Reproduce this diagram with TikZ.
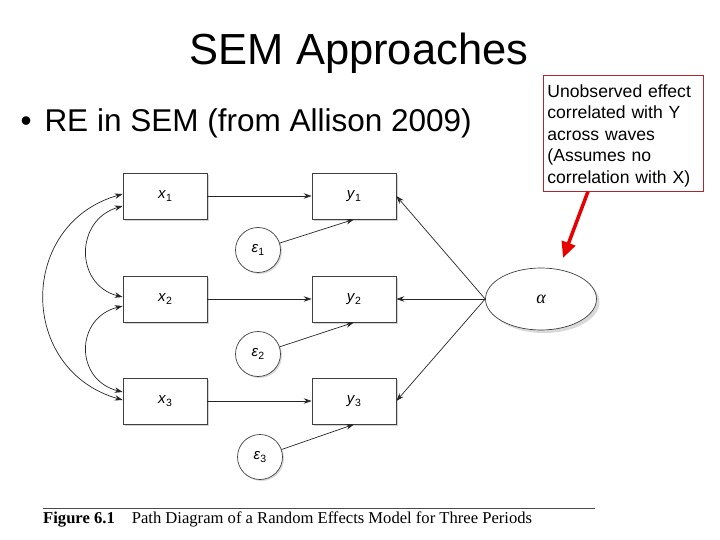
\documentclass[tikz,border=0pt]{standalone}
\usepackage{fontspec}
\setmainfont{Liberation Sans}
\newfontfamily\bookfont{Liberation Serif}
\usetikzlibrary{arrows.meta,shapes.geometric,shadows}

\newcommand{\lbl}[2]{\textit{#1}\raisebox{-3pt}{\fontsize{10.5}{10.5}\selectfont #2}}

\tikzset{
  obs/.style={draw=black!75, fill=white, line width=0.7pt, minimum width=84pt, minimum height=46pt,
    drop shadow={shadow xshift=2pt, shadow yshift=-2pt, opacity=0.35}, font=\fontsize{15}{17}\selectfont},
  err/.style={circle, draw=black!75, fill=white, line width=0.7pt, minimum size=45pt, inner sep=0pt,
    drop shadow={shadow xshift=1.5pt, shadow yshift=-1.5pt, opacity=0.3}, font=\fontsize{15}{17}\selectfont},
  lat/.style={ellipse, draw=black!75, fill=white, line width=0.7pt, minimum width=111pt, minimum height=62pt,
    drop shadow={shadow xshift=3pt, shadow yshift=-3pt, opacity=0.3}, font=\fontsize{18}{20}\selectfont},
  reg/.style={draw=black!85, line width=0.7pt, -{Stealth[length=8pt,width=5.5pt]}},
  cov/.style={draw=black!85, line width=0.7pt, {Stealth[length=8pt,width=5.5pt]}-{Stealth[length=8pt,width=5.5pt]}},
  redarr/.style={draw={rgb,255:red,230;green,0;blue,0}, line width=3.5pt, -{Triangle[length=16pt,width=14pt]}}
}

\begin{document}
\begin{tikzpicture}[x=1pt,y=-1pt]
  \useasboundingbox (0,0) rectangle (720,540);

  % slide text
  \node[font=\fontsize{43.5}{50}\selectfont, anchor=base] (title) at (359,65) {SEM Approaches};
  \node[font=\fontsize{31.5}{36}\selectfont, anchor=base west] (bullet) at (17,132)
    {\makebox[24pt][l]{•}RE in SEM (from Allison 2009)};

  % observed variables
  \node[obs] (x1) at (165,196) {\lbl{x}{1}};
  \node[obs] (x2) at (165,299) {\lbl{x}{2}};
  \node[obs] (x3) at (165,401) {\lbl{x}{3}};
  \node[obs] (y1) at (354,196) {\lbl{y}{1}};
  \node[obs] (y2) at (354,299) {\lbl{y}{2}};
  \node[obs] (y3) at (354,401) {\lbl{y}{3}};

  % errors and random effect
  \node[err] (e1) at (258,250) {\lbl{ε}{1}};
  \node[err] (e2) at (258,354) {\lbl{ε}{2}};
  \node[err] (e3) at (260,457) {\lbl{ε}{3}};
  \node[lat] (alpha) at (541,299) {\bookfont\itshape α};

  % paths
  \foreach \i in {1,2,3} {
    \draw[reg] (x\i) -- (y\i);
    \draw[reg] (e\i) -- (y\i.south);
  }
  \draw[reg] (alpha.west) -- (y1.east);
  \draw[reg] (alpha.west) -- (y2.east);
  \draw[reg] (alpha.west) -- (y3.east);

  % covariances among x
  \draw[cov] ([yshift=-10pt]x1.west) .. controls +(-48,14) and +(-48,-12) .. ([yshift=2pt]x2.west);
  \draw[cov] ([yshift=-7pt]x2.west) .. controls +(-48,12) and +(-48,-12) .. ([yshift=9pt]x3.west);
  \draw[cov] ([yshift=2pt]x1.west) .. controls +(-105,30) and +(-105,-30) .. ([yshift=1pt]x3.west);

  % caption
  \draw[black!70, line width=1pt] (43,508) -- (595,508);
  \node[font=\bookfont\fontsize{16.6}{19}\selectfont, anchor=base west, inner sep=0pt] (caption) at (43,523)
    {\textbf{Figure 6.1}\hspace{17pt}Path Diagram of a Random Effects Model for Three Periods};

  % note
  \node[draw={rgb,255:red,170;green,40;blue,50}, line width=0.8pt, anchor=north west, text width=152pt,
    inner sep=4pt, text height=18pt, align=left, font=\fontsize{17.6}{21.5}\selectfont] (note) at (543,75)
    {Unobserved effect\\correlated with Y\\across waves\\(Assumes no\\correlation with X)};
  \coordinate (tip) at (563,258);
  \draw[redarr] ([xshift=45pt]note.south west) -- (tip);
\end{tikzpicture}
\end{document}
